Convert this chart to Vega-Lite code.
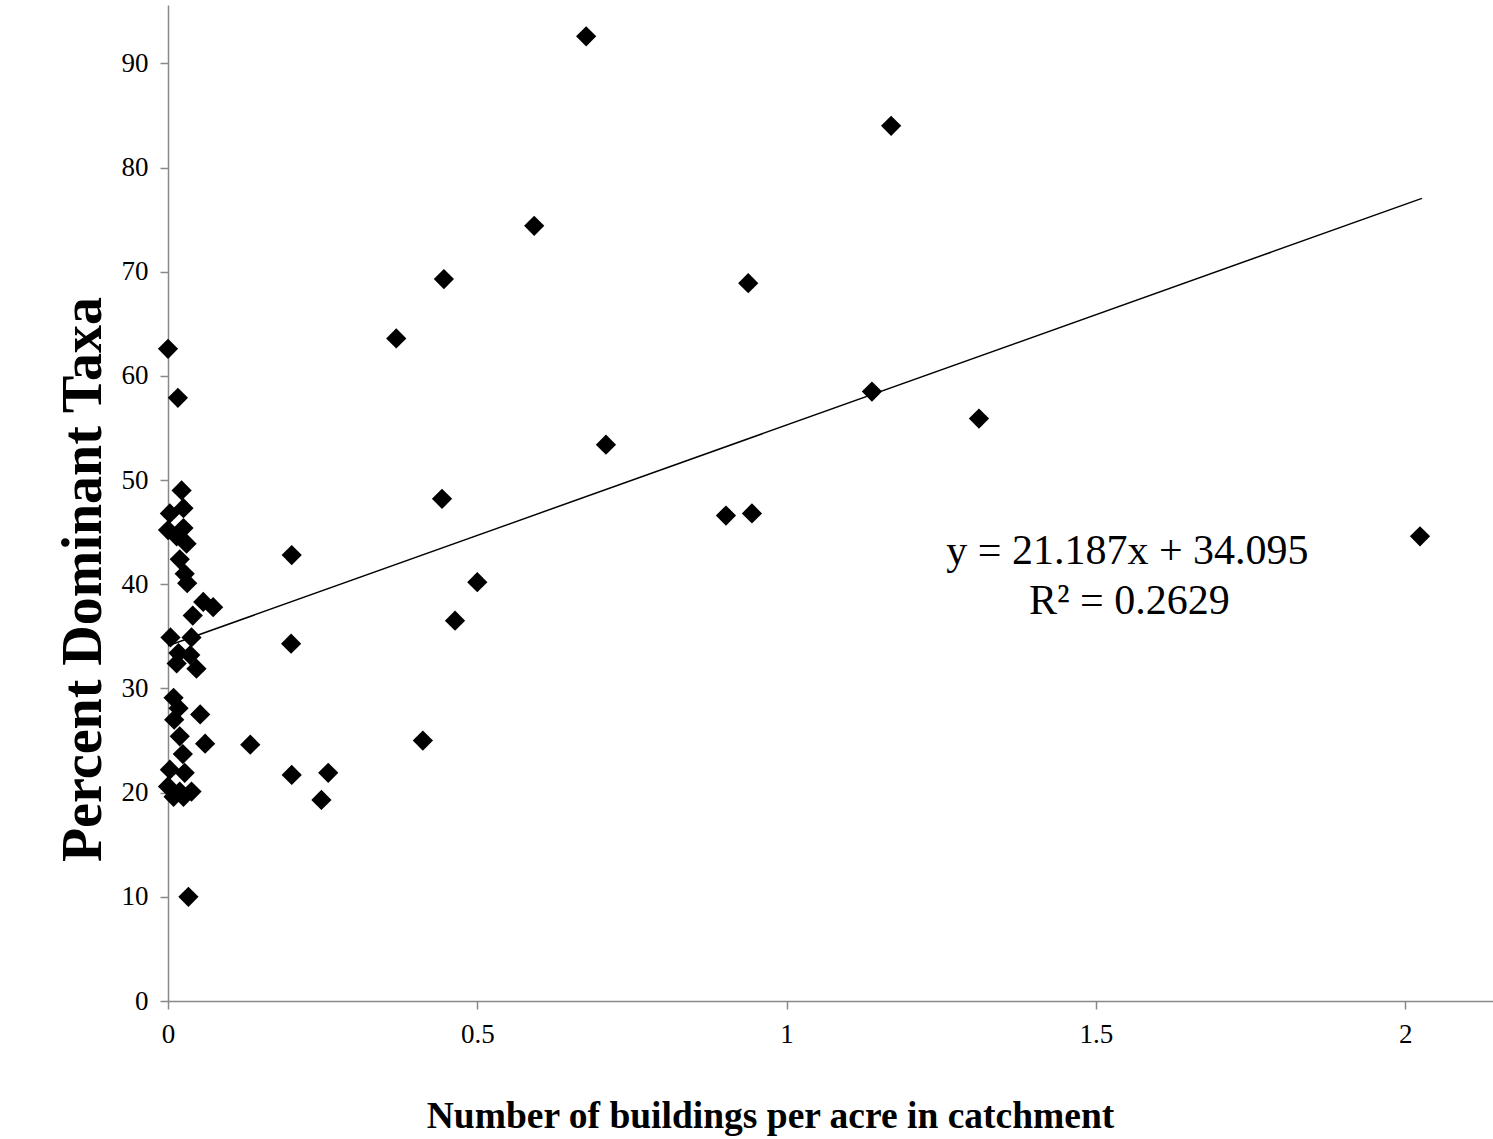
{
  "$schema": "https://vega.github.io/schema/vega-lite/v6.json",
  "width": 1325,
  "height": 996,
  "autosize": {"type": "none"},
  "padding": {"left": 168, "top": 5, "right": 0, "bottom": 138},
  "background": "white",
  "config": {
    "view": {"stroke": null},
    "axis": {
      "grid": false,
      "domainColor": "#888888",
      "domainWidth": 1.5,
      "tickColor": "#888888",
      "tickWidth": 1.5,
      "tickSize": 8,
      "labelFlush": false,
      "labelFont": "Liberation Serif",
      "labelFontSize": 27,
      "labelColor": "black",
      "titleFont": "Liberation Serif",
      "titleFontWeight": "bold",
      "titleColor": "black"
    }
  },
  "datasets": {
    "points": [
      {"x": 0.676, "y": 92.6}, {"x": 1.169, "y": 84.0}, {"x": 0.592, "y": 74.4}, {"x": 0.446, "y": 69.3},
      {"x": 0.938, "y": 68.9}, {"x": 0.369, "y": 63.6}, {"x": 1.138, "y": 58.5}, {"x": 1.311, "y": 55.9},
      {"x": 0.708, "y": 53.4}, {"x": 0.443, "y": 48.2}, {"x": 0.902, "y": 46.6}, {"x": 0.944, "y": 46.8},
      {"x": 2.024, "y": 44.6}, {"x": 0.200, "y": 42.8}, {"x": 0.500, "y": 40.2}, {"x": 0.464, "y": 36.5},
      {"x": 0.199, "y": 34.3}, {"x": 0.412, "y": 25.0}, {"x": 0.133, "y": 24.6}, {"x": 0.200, "y": 21.7},
      {"x": 0.259, "y": 21.9}, {"x": 0.248, "y": 19.3}, {"x": 0.073, "y": 37.8}, {"x": 0.057, "y": 38.3},
      {"x": 0.052, "y": 27.5}, {"x": 0.060, "y": 24.7}, {"x": 0.046, "y": 31.9}, {"x": 0.033, "y": 10.0},
      {"x": 0.000, "y": 62.6}, {"x": 0.016, "y": 57.9}, {"x": 0.022, "y": 49.0}, {"x": 0.025, "y": 47.3},
      {"x": 0.003, "y": 46.8}, {"x": 0.000, "y": 45.2}, {"x": 0.025, "y": 45.4}, {"x": 0.014, "y": 44.6},
      {"x": 0.030, "y": 43.9}, {"x": 0.019, "y": 42.4}, {"x": 0.027, "y": 41.0}, {"x": 0.031, "y": 40.1},
      {"x": 0.040, "y": 37.0}, {"x": 0.004, "y": 34.9}, {"x": 0.038, "y": 34.9}, {"x": 0.017, "y": 33.4},
      {"x": 0.036, "y": 33.2}, {"x": 0.014, "y": 32.4}, {"x": 0.009, "y": 29.1}, {"x": 0.017, "y": 28.1},
      {"x": 0.010, "y": 27.0}, {"x": 0.019, "y": 25.4}, {"x": 0.024, "y": 23.7}, {"x": 0.003, "y": 22.2},
      {"x": 0.027, "y": 21.9}, {"x": 0.000, "y": 20.6}, {"x": 0.009, "y": 19.6}, {"x": 0.019, "y": 20.1},
      {"x": 0.038, "y": 20.1}, {"x": 0.025, "y": 19.6}
    ],
    "trend": [
      {"x": 0.0, "y": 34.1},
      {"x": 2.027, "y": 77.04}
    ],
    "labels": [
      {"x": 1.551, "y": 43.2, "text": "y = 21.187x + 34.095"},
      {"x": 1.554, "y": 38.4, "text": "R² = 0.2629"}
    ]
  },
  "layer": [
    {
      "data": {"name": "trend"},
      "mark": {"type": "line", "color": "black", "strokeWidth": 1.5},
      "encoding": {
        "x": {
          "field": "x", "type": "quantitative",
          "scale": {"domain": [0, 2.142], "nice": false, "zero": false},
          "axis": {
            "values": [0, 0.5, 1, 1.5, 2],
            "format": "~g",
            "labelPadding": 12,
            "title": "Number of buildings per acre in catchment",
            "titleFontSize": 37.5,
            "titleX": 602,
            "titleY": 126,
            "titleAlign": "center",
            "titleBaseline": "alphabetic"
          }
        },
        "y": {
          "field": "y", "type": "quantitative",
          "scale": {"domain": [0, 95.6], "nice": false},
          "axis": {
            "values": [0, 10, 20, 30, 40, 50, 60, 70, 80, 90],
            "labelPadding": 12,
            "title": "Percent Dominant Taxa",
            "titleFontSize": 56,
            "titleX": -68,
            "titleY": 574,
            "titleAlign": "center",
            "titleAngle": -90,
            "titleBaseline": "alphabetic"
          }
        }
      }
    },
    {
      "data": {"name": "points"},
      "mark": {"type": "point", "shape": "diamond", "filled": true, "color": "black", "opacity": 1, "size": 410},
      "encoding": {
        "x": {"field": "x", "type": "quantitative"},
        "y": {"field": "y", "type": "quantitative"}
      }
    },
    {
      "data": {"name": "labels"},
      "mark": {"type": "text", "font": "Liberation Serif", "fontSize": 42, "color": "black", "align": "center", "baseline": "middle"},
      "encoding": {
        "x": {"field": "x", "type": "quantitative"},
        "y": {"field": "y", "type": "quantitative"},
        "text": {"field": "text"}
      }
    }
  ]
}
